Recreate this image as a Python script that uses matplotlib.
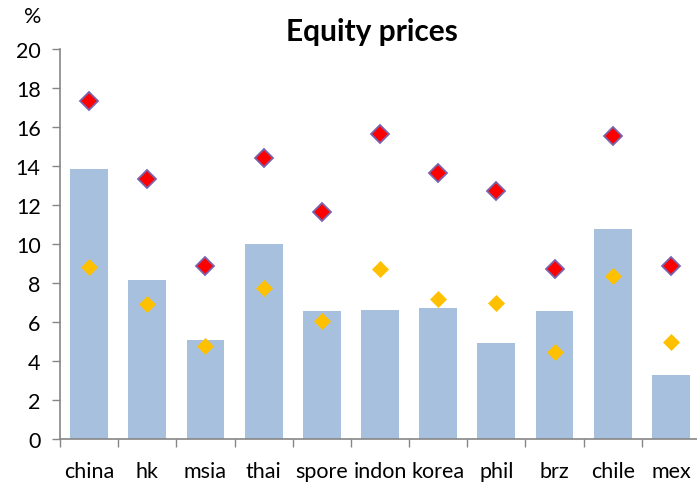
import matplotlib
matplotlib.use("Agg")
import matplotlib.pyplot as plt
import numpy as np

categories = ["china", "hk", "msia", "thai", "spore", "indon", "korea", "phil", "brz", "chile", "mex"]
bar_values = [13.85, 8.17, 5.09, 9.98, 6.55, 6.62, 6.72, 4.9, 6.55, 10.77, 3.28]
red_values = [17.33, 13.32, 8.89, 14.41, 11.62, 15.66, 13.62, 12.73, 8.73, 15.54, 8.87]
yellow_values = [8.82, 6.94, 4.77, 7.74, 6.03, 8.7, 7.2, 6.96, 4.48, 8.38, 4.97]
y_ticks = [0, 2, 4, 6, 8, 10, 12, 14, 16, 18, 20]

plt.rcParams['font.family'] = ['Lato', 'DejaVu Sans']

W, H = 697, 485
fig = plt.figure(figsize=(W / 100, H / 100), dpi=100)
ax = fig.add_axes([60 / W, (H - 440) / H, 640 / W, 390 / H])

x = np.arange(len(categories))
ax.bar(x, bar_values, width=0.65, color="#A7C0DE", zorder=1)
ax.plot(x, red_values, linestyle="none", marker="D", markersize=9.2,
        markerfacecolor="#FF0000", markeredgecolor="#7A62AE", markeredgewidth=1.3, zorder=3)
ax.plot(x, yellow_values, linestyle="none", marker="D", markersize=8.2,
        markerfacecolor="#FFC000", markeredgecolor="#FFC000", markeredgewidth=0.5, zorder=3)

ax.set_xlim(-0.5, len(categories) - 0.5)
ax.set_ylim(0, 20)
ax.set_yticks(y_ticks)
ax.set_yticklabels([str(v) for v in y_ticks], fontsize=15.5)

ax.set_xticks(x)
ax.set_xticklabels(categories, fontsize=15.5)
ax.tick_params(axis="x", which="major", length=0, pad=16)
ax.set_xticks(np.arange(-0.5, len(categories) + 0.5, 1), minor=True)
ax.tick_params(axis="x", which="minor", length=6, width=1, color="#868686", direction="out")
ax.tick_params(axis="y", length=6, width=1, color="#868686", direction="out", pad=8)

for s in ["top", "right"]:
    ax.spines[s].set_visible(False)
for s in ["left", "bottom"]:
    ax.spines[s].set_color("#868686")
    ax.spines[s].set_linewidth(1.2)

fig.text(33 / W, 1 - 17 / H, "%", fontsize=15.5, ha="center", va="center")
fig.text(372 / W, 1 - 32 / H, "Equity prices", fontsize=21.5, fontweight="bold", ha="center", va="center")

fig.savefig("out.png", dpi=100)
